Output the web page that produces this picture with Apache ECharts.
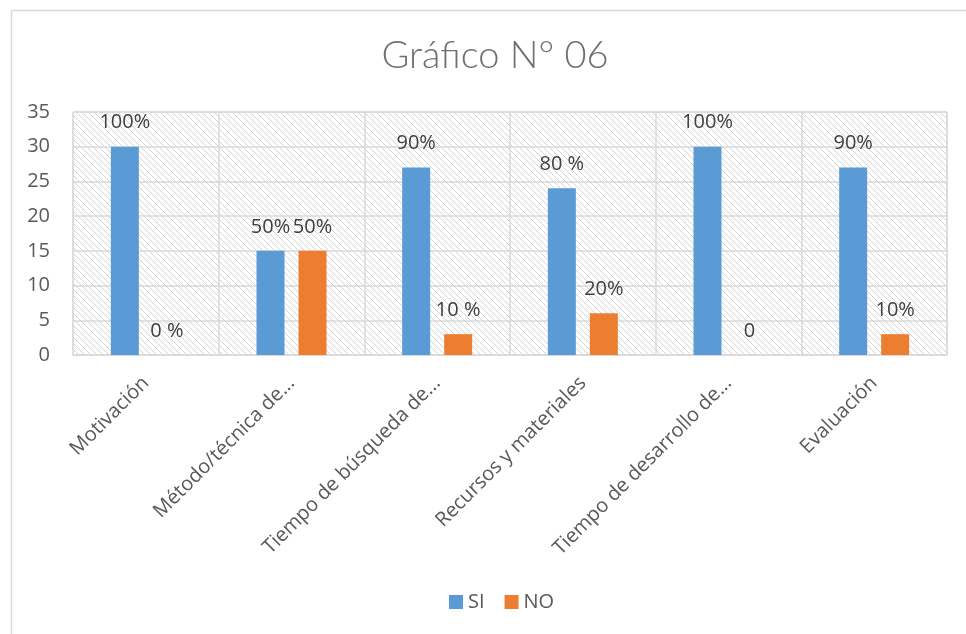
<!DOCTYPE html>
<html>
<head>
<meta charset="utf-8">
<script src="https://cdn.jsdelivr.net/npm/echarts@6/dist/echarts.min.js"></script>
<style>html,body{margin:0;padding:0;background:#fff}#c{width:966px;height:634px}</style>
</head>
<body>
<div id="c"></div>
<script>
const categories = ["Motivación", "Método/técnica de...", "Tiempo de búsqueda de...", "Recursos y materiales", "Tiempo de desarrollo de...", "Evaluación"];
const siValues = [30, 15, 27, 24, 30, 27];
const noValues = [0, 15, 3, 6, 0, 3];
const siLabels = ["100%", "50%", "90%", "80 %", "100%", "90%"];
const noLabels = ["0 %", "50%", "10 %", "20%", "0", "10%"];
const yTicks = [0, 5, 10, 15, 20, 25, 30, 35];

// hatch pattern for plot background
const pc = document.createElement('canvas');
pc.width = 6; pc.height = 6;
const pctx = pc.getContext('2d');
pctx.fillStyle = '#ffffff';
pctx.fillRect(0, 0, 6, 6);
pctx.strokeStyle = '#d4d4d4';
pctx.lineWidth = 1;
pctx.beginPath();
pctx.moveTo(-1, -1); pctx.lineTo(7, 7);
pctx.moveTo(-4, 2); pctx.lineTo(4, 10);
pctx.moveTo(2, -4); pctx.lineTo(10, 4);
pctx.stroke();

const font = '"Open Sans", Lato, sans-serif';
const fw = 500;
const chart = echarts.init(document.getElementById('c'), null, {renderer: 'canvas'});
chart.setOption({
  backgroundColor: '#ffffff',
  animation: false,
  textStyle: {fontFamily: font},
  graphic: [{
    type: 'rect', left: 9, top: 8, z: -10,
    shape: {width: 1000, height: 700},
    style: {fill: 'none', stroke: '#d9d9d9', lineWidth: 1.5}
  }],
  title: {
    text: 'Gráfico N° 06', left: 490, top: 32, textAlign: 'center',
    textStyle: {fontFamily: 'Lato, sans-serif', fontSize: 38, fontWeight: 300, color: '#6f6f6f'}
  },
  legend: {
    data: ['SI', 'NO'], left: 444, top: 587,
    icon: 'rect', itemWidth: 14, itemHeight: 14, itemGap: 20,
    textStyle: {fontFamily: font, fontSize: 20, fontWeight: fw, color: '#595959'}
  },
  grid: {
    left: 73, right: 19, top: 112, bottom: 279,
    show: true, borderColor: '#d9d9d9', borderWidth: 1,
    backgroundColor: {image: pc, repeat: 'repeat'}
  },
  xAxis: {
    type: 'category', data: categories,
    axisLine: {show: true, lineStyle: {color: '#d9d9d9'}},
    axisTick: {show: false},
    splitLine: {show: true, lineStyle: {color: '#d9d9d9', width: 1.5}},
    axisLabel: {rotate: 45, interval: 0, margin: 25, fontFamily: font, fontSize: 20, fontWeight: fw, color: '#595959'}
  },
  yAxis: {
    type: 'value', min: yTicks[0], max: yTicks[yTicks.length - 1], interval: 5,
    axisLine: {show: false}, axisTick: {show: false},
    splitLine: {lineStyle: {color: '#d9d9d9', width: 1.5}},
    axisLabel: {margin: 23, fontFamily: font, fontSize: 20, fontWeight: fw, color: '#595959'}
  },
  series: [
    {
      name: 'SI', type: 'bar', data: siValues, barWidth: 28, barGap: '50%',
      itemStyle: {color: '#5b9bd5'},
      label: {show: true, position: 'top', distance: 14, fontFamily: font, fontSize: 20, fontWeight: fw, color: '#404040',
        formatter: p => siLabels[p.dataIndex]}
    },
    {
      name: 'NO', type: 'bar', data: noValues, barWidth: 28,
      itemStyle: {color: '#ed7d31'},
      label: {show: true, position: 'top', distance: 14, fontFamily: font, fontSize: 20, fontWeight: fw, color: '#404040',
        formatter: p => noLabels[p.dataIndex]}
    }
  ]
});
</script>
</body>
</html>
